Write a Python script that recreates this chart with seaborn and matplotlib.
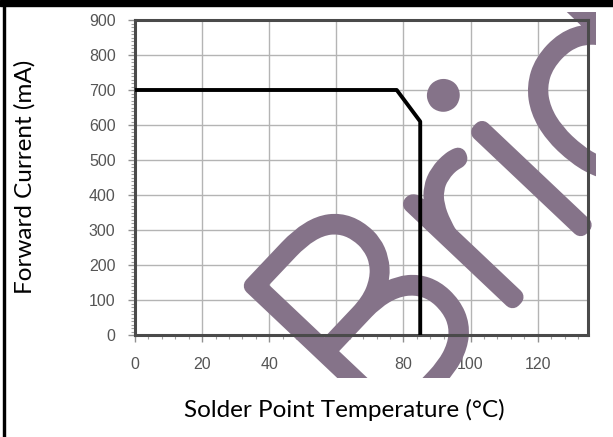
import matplotlib
matplotlib.use("Agg")
import matplotlib.pyplot as plt
import matplotlib.patheffects as pe
import seaborn as sns
import pandas as pd
import numpy as np
from matplotlib.transforms import Bbox, TransformedBbox
from matplotlib.ticker import MultipleLocator

# ---- data ----
temperature = [0, 78, 85, 85]
forward_current = [700, 700, 610, 0]
x_ticks = [0, 20, 40, 60, 80, 100, 120]
y_ticks = [0, 100, 200, 300, 400, 500, 600, 700, 800, 900]
x_label = "Solder Point Temperature (°C)"
y_label = "Forward Current (mA)"
watermark = "Bridgelux"

sns.set_theme(style="white")
plt.rcParams['font.family'] = ['Liberation Sans', 'DejaVu Sans']

W, H = 613, 437
fig = plt.figure(figsize=(W / 100, H / 100), dpi=100)
fig.patch.set_facecolor("white")

def fx(px):
    return px / W

def fy(py):
    return 1 - py / H

ax = fig.add_axes([fx(135), fy(335), fx(588) - fx(135), fy(20) - fy(335)])
ax.set_facecolor("white")

df = pd.DataFrame({"t": temperature, "i": forward_current})
sns.lineplot(data=df, x="t", y="i", estimator=None, sort=False,
             color="black", linewidth=2.8, ax=ax, zorder=3)

ax.set_xlim(0, 135)
ax.set_ylim(0, 900)
ax.set_xticks(x_ticks)
ax.set_yticks(y_ticks)
ax.xaxis.set_minor_locator(MultipleLocator(4))
ax.yaxis.set_minor_locator(MultipleLocator(10))
ax.set_xlabel("")
ax.set_ylabel("")

# grid drawn manually below the watermark
for xv in x_ticks[1:]:
    ax.axvline(xv, color="#b4b4b4", linewidth=1.0, zorder=0.8)
for yv in y_ticks[1:]:
    ax.axhline(yv, color="#b4b4b4", linewidth=1.0, zorder=0.8)

ax.tick_params(axis="x", which="major", direction="out", length=5, width=1,
               color="#909090", pad=11, labelsize=11.5, labelcolor="#555555",
               bottom=True)
ax.tick_params(axis="x", which="minor", direction="out", length=3, width=0.8,
               color="#a0a0a0", bottom=True)
ax.tick_params(axis="y", which="major", direction="out", length=5, width=1,
               color="#909090", pad=9, labelsize=11.5, labelcolor="#555555",
               left=True)
ax.tick_params(axis="y", which="minor", direction="out", length=3, width=0.8,
               color="#a0a0a0", left=True)

for s in ax.spines.values():
    s.set_visible(True)
    s.set_color("#4a4a4a")
    s.set_linewidth(2.2)

# watermark (between grid and line), clipped to the chart picture region
wm_color = "#857389"
clip = TransformedBbox(Bbox([[fx(0), fy(378)], [fx(596), fy(12)]]), fig.transFigure)
wm = ax.text(fx(374), fy(446), watermark, transform=fig.transFigure,
             rotation=46.6, rotation_mode="anchor", ha="left", va="baseline",
             fontsize=204, color=wm_color, family="Lato", fontweight="light",
             zorder=1)
wm.set_path_effects([pe.Stroke(linewidth=12.5, foreground=wm_color,
                               capstyle="round", joinstyle="round"),
                     pe.Normal()])
wm.set_clip_on(True)
wm.set_clip_box(clip)

# axis labels
fig.text(fx(344), fy(410), x_label, ha="center", va="center",
         fontsize=17.5, family=["Lato", "DejaVu Sans"], color="black")
fig.text(fx(25), fy(177), y_label, ha="center", va="center", rotation=90,
         fontsize=17.5, family=["Lato", "DejaVu Sans"], color="black")

# outer frame: black top band and left line
fig.add_artist(plt.Rectangle((0, fy(6)), 1, fy(0) - fy(6), transform=fig.transFigure,
                             color="black", zorder=10))
fig.add_artist(plt.Rectangle((fx(3), 0), fx(2), 1, transform=fig.transFigure,
                             color="black", zorder=10))

fig.savefig("out.png", dpi=100, facecolor="white")
